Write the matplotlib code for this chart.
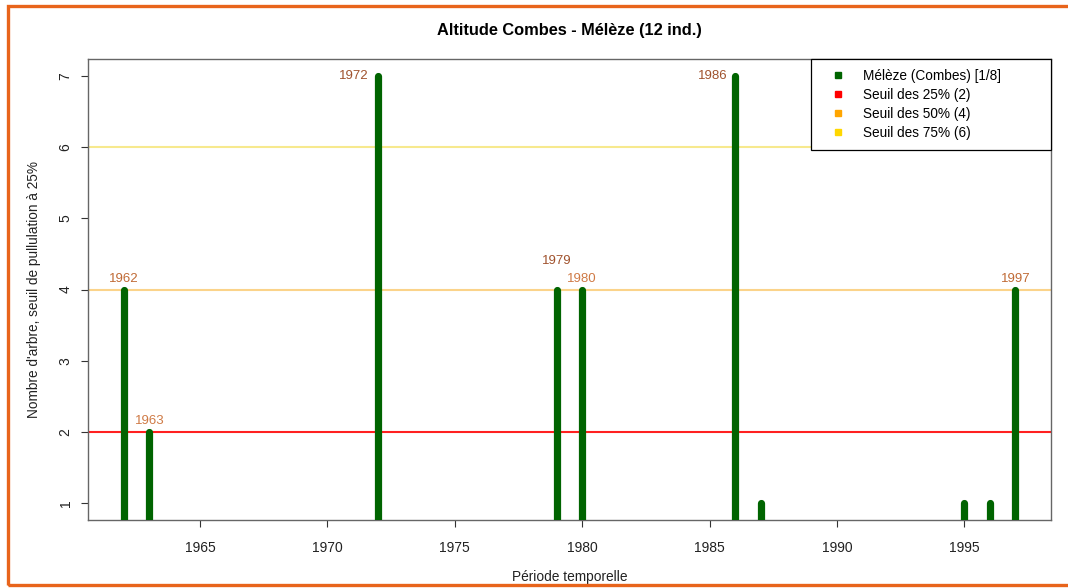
import matplotlib
matplotlib.use('Agg')
import matplotlib.pyplot as plt
from matplotlib.lines import Line2D
from matplotlib.patches import Rectangle

plt.rcParams['font.family'] = ['Liberation Sans', 'DejaVu Sans']

# data
years = [1962, 1963, 1972, 1979, 1980, 1986, 1987, 1995, 1996, 1997]
counts = [4, 2, 7, 4, 4, 7, 1, 1, 1, 4]
label_years = [1962, 1963, 1972, 1979, 1980, 1986, 1997]
seuils = [2, 4, 6]
seuil_labels = ['Seuil des 25% (2)', 'Seuil des 50% (4)', 'Seuil des 75% (6)']
serie_label = 'Mélèze (Combes) [1/8]'
xticks = [1965, 1970, 1975, 1980, 1985, 1990, 1995]
yticks = [1, 2, 3, 4, 5, 6, 7]

green = '#006400'
seuil_colors = ['#ff0000', '#ffa500', '#ffd700']
seuil_draw = ['#ff2020', '#fbd38a', '#f7e98e']
dark_lab = '#a0522d'
light_lab = '#cf7a45'

# where each year label goes: (dx px, dy px, ha, colour)
placement = {
    1962: (0, 5, 'center', '#c06a35'),
    1963: (1, 5, 'center', light_lab),
    1972: (-10, -6, 'right', dark_lab),
    1979: (0, 23, 'center', dark_lab),
    1980: (0, 5, 'center', light_lab),
    1986: (-8, -6, 'right', dark_lab),
    1997: (0, 5, 'center', '#c06a35'),
}

fig = plt.figure(figsize=(10.68, 5.88), dpi=100)
ax = fig.add_axes([88/1068, 1-520/588, (1051-88)/1068, (520-59)/588])

ax.vlines(years, 0, counts, colors=green, linewidth=5.2, capstyle='round', zorder=3)
for s, c in zip(seuils, seuil_draw):
    ax.axhline(s, color=c, linewidth=1.5, zorder=2)

cnt = dict(zip(years, counts))
for y in label_years:
    dx, dy, ha, col = placement[y]
    ax.annotate(str(y), (y, cnt[y]), xytext=(dx*0.72, dy*0.72), textcoords='offset points',
                ha=ha, va='bottom', color=col, fontsize=9.5, zorder=4)

ax.set_xlim(1960.6, 1998.4)
ax.set_ylim(0.76, 7.24)
ax.set_xticks(xticks)
ax.set_yticks(yticks)
ax.tick_params(axis='both', direction='out', length=5, width=0.8, color='#333333',
               labelsize=10, labelcolor='#222222')
ax.tick_params(axis='x', pad=10)
ax.tick_params(axis='y', pad=6)
for lab in ax.get_yticklabels():
    lab.set_rotation(90)
    lab.set_va('center')
for sp in ax.spines.values():
    sp.set_color('#666666')
    sp.set_linewidth(1.0)

ax.set_title('Altitude Combes - Mélèze (12 ind.)', fontsize=11.8, fontweight='bold', pad=17)
ax.set_xlabel('Période temporelle', fontsize=9.9, labelpad=11, color='#222222')
ax.set_ylabel("Nombre d'arbre, seuil de pullulation à 25%", fontsize=9.8, labelpad=13, color='#222222')

handles = [Line2D([], [], ls='none', marker='s', markersize=4.5, color=green)]
handles += [Line2D([], [], ls='none', marker='s', markersize=4.5, color=c) for c in seuil_colors]
leg = ax.legend(handles, [serie_label] + seuil_labels, loc='upper right',
                bbox_to_anchor=(0.7508, 0.0, 0.2492, 1.0), mode='expand',
                borderaxespad=0, fontsize=9.8, handlelength=2.4, handletextpad=0.7,
                borderpad=0.75, labelspacing=0.36, fancybox=False, framealpha=1)
leg.get_frame().set_edgecolor('black')
leg.get_frame().set_linewidth(0.9)

# orange frame round the figure
fig.patches.append(Rectangle((8/1068, 3/588), 1.1, (585-6)/588, transform=fig.transFigure,
                             fill=False, edgecolor='#e8641b', linewidth=2.4, figure=fig))

fig.savefig('out.png', dpi=100)
